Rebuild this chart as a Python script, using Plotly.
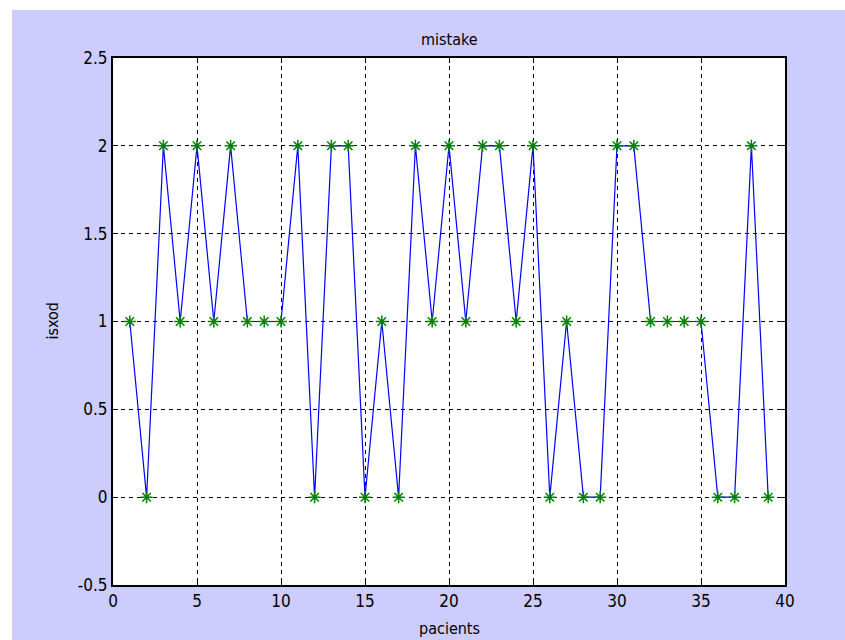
import plotly.graph_objects as go

patients = list(range(1, 40))
isxod = [1, 0, 2, 1, 2, 1, 2, 1, 1, 1,
         2, 0, 2, 2, 0, 1, 0, 2, 1, 2,
         1, 2, 2, 1, 2, 0, 1, 0, 0, 2,
         2, 1, 1, 1, 1, 0, 0, 2, 0]
x_ticks = [0, 5, 10, 15, 20, 25, 30, 35, 40]
y_ticks = [-0.5, 0, 0.5, 1, 1.5, 2, 2.5]
y_tick_text = ["-0.5", "0", "0.5", "1", "1.5", "2", "2.5"]

FONT = "DejaVu Sans Condensed, Liberation Sans Narrow, Arial Narrow, sans-serif"
LAV = "#CCCCFF"

fig = go.Figure()
fig.add_trace(go.Scatter(
    x=patients, y=isxod, mode="lines",
    line=dict(color="#0000FF", width=1.2),
    hoverinfo="skip", showlegend=False,
))
fig.add_trace(go.Scatter(
    x=patients, y=isxod, mode="markers",
    marker=dict(symbol="asterisk-open", size=10, color="#008000",
                line=dict(color="#008000", width=1.5)),
    showlegend=False,
))

axis_common = dict(
    showline=True, linecolor="black", linewidth=2, mirror="ticks",
    ticks="inside", ticklen=5, tickcolor="black", tickwidth=1,
    showgrid=True, gridcolor="black", griddash="4px,4px", gridwidth=1,
    zeroline=False, automargin=False,
    tickfont=dict(family=FONT, size=17, color="black"),
)

# page body margin removed below, so figure coords == page coords
L, R, T, B = 113, 60, 58, 55
PW, PH = 845 - L - R, 640 - T - B
tfont = dict(family=FONT, size=16, color="black")

fig.update_layout(
    width=845, height=640,
    margin=dict(l=L, r=R, t=T, b=B, autoexpand=False),
    paper_bgcolor=LAV, plot_bgcolor="white",
    xaxis=dict(range=[0, 40], tickvals=x_ticks, ticktext=[str(v) for v in x_ticks],
               **axis_common),
    yaxis=dict(range=[-0.5, 2.5], tickvals=y_ticks, ticktext=y_tick_text,
               **axis_common),
    annotations=[
        dict(text="mistake", xref="paper", yref="paper", x=0.5, y=1 + 18 / PH,
             xanchor="center", yanchor="middle", showarrow=False, font=tfont),
        dict(text="pacients", xref="paper", yref="paper", x=0.5, y=-43 / PH,
             xanchor="center", yanchor="middle", showarrow=False, font=tfont),
        dict(text="isxod", xref="paper", yref="paper", x=-61 / PW, y=0.5,
             xanchor="center", yanchor="middle", textangle=-90, showarrow=False, font=tfont),
    ],
    shapes=[
        dict(type="rect", xref="paper", yref="paper", x0=-(L + 2) / PW, x1=(PW + R + 2) / PW,
             y0=1 + (T - 10) / PH, y1=1 + (T + 2) / PH, line=dict(width=0),
             fillcolor="white", layer="above"),
        dict(type="rect", xref="paper", yref="paper", x0=-(L + 2) / PW, x1=-(L - 12) / PW,
             y0=-(B + 2) / PH, y1=1 + (T + 2) / PH, line=dict(width=0),
             fillcolor="white", layer="above"),
    ],
)

fig.write_html(
    "out.html",
    config={"displayModeBar": False},
    post_script=(
        "document.body.style.margin='0';"
        "document.body.style.overflow='hidden';"
        "document.documentElement.style.overflow='hidden';"
        "document.documentElement.style.background='#CCCCFF';"
        "document.body.style.background='#CCCCFF';"
    ),
)
